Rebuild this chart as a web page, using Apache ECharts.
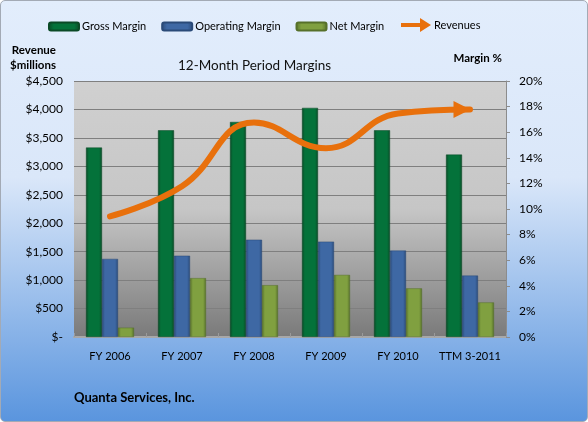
<!DOCTYPE html>
<html><head><meta charset="utf-8">
<script src="https://cdn.jsdelivr.net/npm/echarts@6/dist/echarts.min.js"></script>
<style>
html,body{margin:0;padding:0;background:#fff;}
#wrap{width:586px;height:420px;border:1px solid #A3AAB5;border-radius:5px;overflow:hidden;
background:linear-gradient(to bottom,#E2EDFC 0%,#DAE7F9 42%,#5A95DE 100%);}
#c{width:586px;height:420px;}
</style></head><body>
<div id="wrap"><div id="c"></div></div>
<script>
const categories = ['FY 2006','FY 2007','FY 2008','FY 2009','FY 2010','TTM 3-2011'];
const grossMargin = [14.8, 16.15, 16.8, 17.9, 16.15, 14.25];
const operatingMargin = [6.1, 6.35, 7.6, 7.45, 6.75, 4.8];
const netMargin = [0.73, 4.6, 4.05, 4.85, 3.8, 2.7];
const revenues = [2120, 2650, 3770, 3320, 3930, 4000];

const FONT = 'Lato';
function bevel(mid, edge){
  return {type:'linear',x:0,y:0,x2:1,y2:0,colorStops:[
    {offset:0,color:edge},{offset:0.18,color:mid},{offset:0.82,color:mid},{offset:1,color:edge}]};
}
const green = '#04723A', blue = '#3E68A4', olive = '#80A040';
const chart = echarts.init(document.getElementById('c'), null, {renderer:'canvas'});
const revData = revenues.map((v,i)=> i===revenues.length-1
  ? {value:v, symbol:'triangle', symbolSize:[17,17], symbolRotate:-90, symbolOffset:[-8,0]}
  : {value:v, symbol:'none'});
chart.setOption({
  backgroundColor:'transparent',
  textStyle:{fontFamily:FONT},
  title:[
    {text:'12-Month Period Margins', left:172, top:53, textStyle:{fontFamily:FONT,fontSize:13.5,fontWeight:'normal',color:'#111'}},
    {text:'Quanta Services, Inc.', left:68, top:385, textStyle:{fontFamily:FONT,fontSize:13,fontWeight:'bold',color:'#000'}}
  ],
  legend:[
    {data:['Gross Margin','Operating Margin','Net Margin'], left:42, top:15, itemWidth:30, itemHeight:8, itemGap:15,
     textStyle:{fontFamily:FONT,fontSize:11,color:'#000',padding:[0,0,0,-2]}},
    {data:[{name:'Revenues', icon:'path://M0,5H19V0L30,7L19,14V9H0Z'}], left:395, top:12, itemWidth:30, itemHeight:14,
     textStyle:{fontFamily:FONT,fontSize:11,color:'#000',padding:[0,0,0,-2]}}
  ],
  grid:{left:73, right:81, top:80, bottom:84, show:true, borderWidth:0,
    backgroundColor:{type:'linear',x:0,y:0,x2:0,y2:1,colorStops:[
      {offset:0,color:'#D0D0D0'},{offset:0.5,color:'#C6C6C6'},{offset:1,color:'#7A7A7A'}]}},
  xAxis:{type:'category', data:categories,
    axisLine:{show:true,lineStyle:{color:'#A8A8A8',width:2}},
    axisTick:{show:true,inside:true,length:4,lineStyle:{color:'#9A9A9A'}},
    axisLabel:{color:'#000',fontSize:11,margin:14,fontFamily:FONT,interval:0}},
  yAxis:[
    {type:'value', min:0, max:4500, interval:500, position:'left',
     name:'Revenue\n$millions', nameLocation:'end', nameGap:8,
     nameTextStyle:{align:'right',verticalAlign:'bottom',padding:[0,18,0,0],fontWeight:'bold',fontSize:11.5,lineHeight:15,color:'#000',fontFamily:FONT},
     axisLine:{show:false}, axisTick:{show:false},
     splitLine:{show:true,lineStyle:{color:'#7F7F7F',width:1}},
     axisLabel:{color:'#000',fontSize:12,margin:11,fontFamily:FONT,
       formatter:v=> v===0 ? '$-' : '$'+v.toLocaleString('en-US')}},
    {type:'value', min:0, max:20, interval:2, position:'right',
     name:'Margin %', nameLocation:'end', nameGap:17,
     nameTextStyle:{align:'right',verticalAlign:'bottom',padding:[0,4,0,0],fontWeight:'bold',fontSize:11.5,color:'#000',fontFamily:FONT},
     axisLine:{show:true,lineStyle:{color:'#8C8C8C'}},
     axisTick:{show:true,length:4,lineStyle:{color:'#8C8C8C'}},
     splitLine:{show:false},
     axisLabel:{color:'#000',fontSize:12,margin:13,fontFamily:FONT,formatter:'{value}%'}}
  ],
  series:[
    {name:'Gross Margin', type:'bar', yAxisIndex:1, data:grossMargin, barWidth:16, barGap:'0%',
     itemStyle:{color:bevel(green,'#0A4A26'), borderColor:'#0A4A26', borderWidth:0.5}},
    {name:'Operating Margin', type:'bar', yAxisIndex:1, data:operatingMargin, barWidth:16, barGap:'0%',
     itemStyle:{color:bevel(blue,'#2A4A78'), borderColor:'#2A4A78', borderWidth:0.5}},
    {name:'Net Margin', type:'bar', yAxisIndex:1, data:netMargin, barWidth:16, barGap:'0%',
     itemStyle:{color:bevel(olive,'#56702A'), borderColor:'#56702A', borderWidth:0.5}},
    {name:'Revenues', type:'line', yAxisIndex:0, data:revData, smooth:0.45,
     lineStyle:{color:'#E8700C',width:6,cap:'round'}, itemStyle:{color:'#E8700C'},
     showSymbol:true, z:5}
  ]
});
</script>
</body></html>
